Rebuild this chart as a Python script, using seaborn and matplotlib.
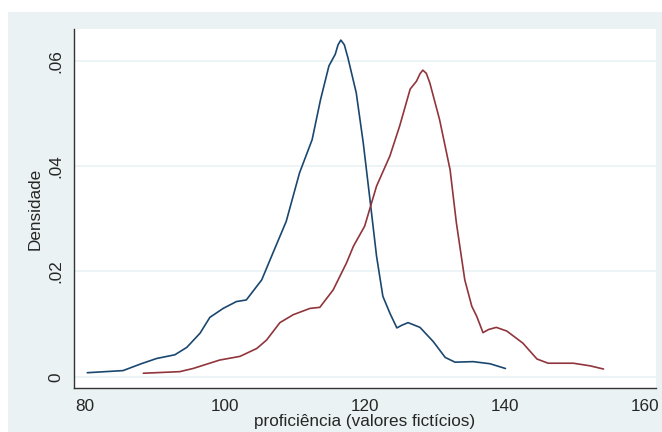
import pandas as pd
import numpy as np
import matplotlib.pyplot as plt
import seaborn as sns
from matplotlib.patches import Rectangle

# density curves
x_azul = [80.3, 85.4, 88.0, 90.2, 92.8, 94.5, 96.4, 97.8, 99.7, 101.6, 103.0,
          105.2, 106.8, 108.7, 110.6, 112.4, 113.6, 114.8, 115.7, 116.1, 116.5,
          117.0, 117.5, 118.7, 119.7, 120.6, 121.6, 122.5, 123.5, 124.5, 125.2,
          126.1, 127.8, 129.7, 131.4, 132.8, 135.4, 137.8, 140.0]
y_azul = [0.0008, 0.0012, 0.0025, 0.0035, 0.0042, 0.0056, 0.0083, 0.0113, 0.0130,
          0.0143, 0.0146, 0.0184, 0.0235, 0.0295, 0.0387, 0.0450, 0.0526, 0.0590,
          0.0612, 0.0630, 0.0639, 0.0630, 0.0606, 0.0539, 0.0444, 0.0343, 0.0229,
          0.0153, 0.0121, 0.0093, 0.0098, 0.0103, 0.0094, 0.0067, 0.0037, 0.0028,
          0.0029, 0.0025, 0.0016]

x_verm = [88.3, 93.5, 95.4, 99.2, 102.1, 104.5, 105.9, 107.8, 109.7, 112.1, 113.5,
          115.4, 117.3, 118.3, 119.9, 121.6, 123.5, 124.9, 126.4, 127.3, 127.8,
          128.2, 128.7, 129.2, 130.6, 132.1, 133.0, 134.2, 135.2, 135.9, 136.8,
          137.6, 138.7, 140.2, 142.5, 144.5, 146.1, 149.7, 152.1, 154.0]
y_verm = [0.0007, 0.0010, 0.0016, 0.0032, 0.0039, 0.0054, 0.0070, 0.0103, 0.0118,
          0.0130, 0.0132, 0.0165, 0.0216, 0.0248, 0.0286, 0.0362, 0.0419, 0.0476,
          0.0546, 0.0561, 0.0575, 0.0582, 0.0576, 0.0558, 0.0488, 0.0393, 0.0292,
          0.0184, 0.0134, 0.0115, 0.0084, 0.0090, 0.0094, 0.0087, 0.0064, 0.0034,
          0.0026, 0.0026, 0.0021, 0.0015]

yticks = [0, 0.02, 0.04, 0.06]
ytick_labels = ['0', '.02', '.04', '.06']
xticks = [80, 100, 120, 140, 160]

df = pd.concat([
    pd.DataFrame({'x': x_azul, 'y': y_azul, 'grupo': 'a'}),
    pd.DataFrame({'x': x_verm, 'y': y_verm, 'grupo': 'b'}),
])

sns.set_style('white')
plt.rcParams['font.family'] = ['Liberation Sans', 'DejaVu Sans']

fundo = '#eaf2f3'
fig = plt.figure(figsize=(6.62, 4.32), dpi=100, facecolor=fundo)
# white strips at the top and left edge of the image
fig.add_artist(Rectangle((0, 1 - 12 / 432), 1, 12 / 432, transform=fig.transFigure,
                         facecolor='white', edgecolor='none'))
fig.add_artist(Rectangle((0, 0), 8 / 662, 1, transform=fig.transFigure,
                         facecolor='white', edgecolor='none'))
ax = fig.add_axes([74 / 662, 1 - 388 / 432, 582 / 662, 359 / 432])
ax.set_facecolor('white')

sns.lineplot(data=df, x='x', y='y', hue='grupo', palette=['#1a476f', '#90353b'],
             linewidth=1.2, legend=False, ax=ax, sort=False)

ax.set_xlim(78.4, 161.5)
ax.set_ylim(-0.0021, 0.066)
ax.set_xticks(xticks)
ax.set_yticks(yticks)
ax.set_yticklabels(ytick_labels, rotation=90, va='center')
ax.grid(axis='y', color=fundo, linewidth=1.2)
ax.set_axisbelow(True)
for s in ['top', 'right']:
    ax.spines[s].set_visible(False)
for s in ['left', 'bottom']:
    ax.spines[s].set_color('#333333')
    ax.spines[s].set_linewidth(1.0)
ax.tick_params(axis='both', direction='out', length=5, width=1, color='#333333',
               labelsize=12.3, pad=3)
ax.set_xlabel('proficiência (valores fictícios)', fontsize=12.3, labelpad=0)
ax.set_ylabel('Densidade', fontsize=12.3, labelpad=4)

fig.savefig('out.png', dpi=100, facecolor=fig.get_facecolor())
